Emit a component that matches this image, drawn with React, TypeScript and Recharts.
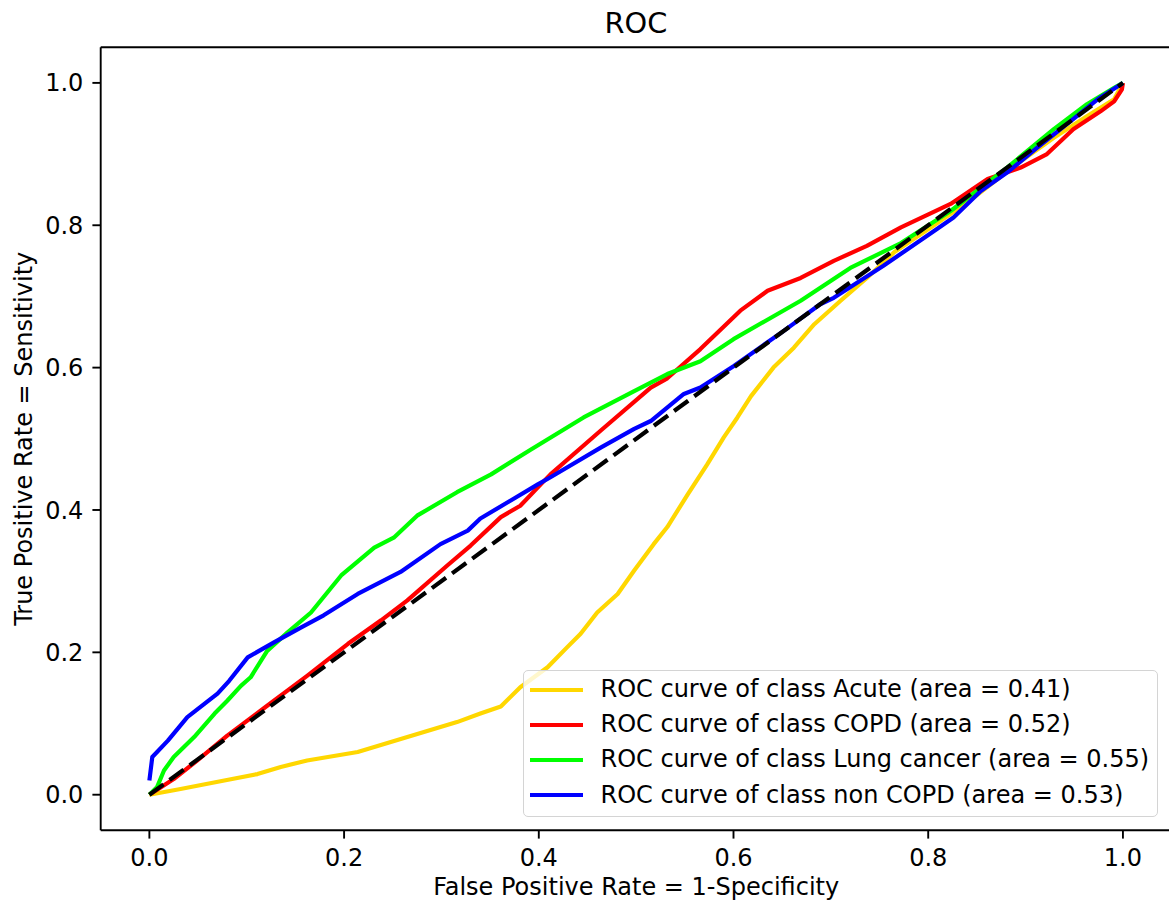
import React from 'react';
import { LineChart, Line, XAxis, YAxis, ReferenceLine, Legend } from 'recharts';

// ROC points (false positive rate, true positive rate)
const acuteFpr = [0, 0.032, 0.077, 0.111, 0.135, 0.162, 0.214, 0.265, 0.316, 0.34, 0.361, 0.381, 0.409, 0.429, 0.443, 0.46, 0.481, 0.498, 0.518, 0.532, 0.553, 0.573, 0.59, 0.604, 0.618, 0.641, 0.662, 0.683, 0.71, 0.737, 0.765, 0.806, 0.84, 0.895, 0.929, 0.963, 0.991, 1];
const acuteTpr = [0, 0.008, 0.02, 0.029, 0.039, 0.048, 0.06, 0.081, 0.102, 0.114, 0.124, 0.151, 0.179, 0.207, 0.226, 0.256, 0.282, 0.315, 0.352, 0.376, 0.422, 0.464, 0.502, 0.53, 0.56, 0.6, 0.628, 0.661, 0.694, 0.726, 0.762, 0.8, 0.832, 0.89, 0.923, 0.953, 0.977, 1];

const copdFpr = [0, 0.025, 0.049, 0.08, 0.121, 0.162, 0.204, 0.238, 0.265, 0.306, 0.33, 0.361, 0.381, 0.402, 0.412, 0.464, 0.515, 0.532, 0.566, 0.607, 0.635, 0.669, 0.703, 0.737, 0.772, 0.823, 0.861, 0.895, 0.922, 0.949, 0.977, 0.991, 0.999, 1];
const copdTpr = [0, 0.022, 0.048, 0.083, 0.125, 0.167, 0.212, 0.245, 0.273, 0.322, 0.35, 0.39, 0.406, 0.436, 0.45, 0.512, 0.572, 0.585, 0.626, 0.68, 0.708, 0.726, 0.75, 0.771, 0.797, 0.83, 0.865, 0.881, 0.9, 0.935, 0.96, 0.974, 0.991, 1];

const lungFpr = [0, 0.008, 0.015, 0.025, 0.046, 0.067, 0.08, 0.094, 0.104, 0.121, 0.142, 0.166, 0.197, 0.231, 0.251, 0.275, 0.316, 0.351, 0.392, 0.446, 0.498, 0.532, 0.566, 0.6, 0.669, 0.72, 0.772, 0.823, 0.881, 0.929, 0.963, 0.991, 1];
const lungTpr = [0, 0.011, 0.034, 0.053, 0.081, 0.114, 0.132, 0.153, 0.165, 0.202, 0.228, 0.256, 0.308, 0.347, 0.361, 0.392, 0.425, 0.45, 0.485, 0.53, 0.567, 0.591, 0.609, 0.64, 0.694, 0.74, 0.775, 0.82, 0.881, 0.935, 0.97, 0.993, 1];

const nonCopdFpr = [0, 0.003, 0.019, 0.039, 0.07, 0.082, 0.101, 0.128, 0.156, 0.179, 0.214, 0.258, 0.299, 0.327, 0.34, 0.399, 0.412, 0.464, 0.498, 0.515, 0.549, 0.566, 0.6, 0.652, 0.689, 0.703, 0.754, 0.806, 0.826, 0.854, 0.881, 0.912, 0.946, 0.974, 1];
const nonCopdTpr = [0.02, 0.053, 0.076, 0.109, 0.142, 0.16, 0.193, 0.214, 0.235, 0.252, 0.282, 0.313, 0.352, 0.371, 0.388, 0.436, 0.446, 0.488, 0.514, 0.525, 0.563, 0.572, 0.602, 0.652, 0.689, 0.698, 0.743, 0.792, 0.811, 0.848, 0.874, 0.909, 0.946, 0.977, 1];

const chanceFpr = [0, 1];
const chanceTpr = [0, 1];

const xTicks = [0, 0.2, 0.4, 0.6, 0.8, 1.0];
const yTicks = [0, 0.2, 0.4, 0.6, 0.8, 1.0];

const series = [
  { name: 'ROC curve of class Acute (area = 0.41)', color: '#FFD700', fpr: acuteFpr, tpr: acuteTpr },
  { name: 'ROC curve of class COPD (area = 0.52)', color: '#FF0000', fpr: copdFpr, tpr: copdTpr },
  { name: 'ROC curve of class Lung cancer (area = 0.55)', color: '#00FF00', fpr: lungFpr, tpr: lungTpr },
  { name: 'ROC curve of class non COPD (area = 0.53)', color: '#0000FF', fpr: nonCopdFpr, tpr: nonCopdTpr },
];

const toPoints = (xs: number[], ys: number[]) => xs.map((x, i) => ({ x, y: ys[i] }));

const FONT = 'DejaVu Sans';
const TICK_FONT = 24;

const renderLegend = ({ payload }: any) => (
  <div
    style={{
      boxSizing: 'border-box',
      width: 635,
      height: 147.3,
      border: '1.5px solid #d4d4d4',
      borderRadius: 5,
      background: 'rgba(255,255,255,0.8)',
      paddingTop: 1,
      fontFamily: FONT,
      fontSize: TICK_FONT,
      color: '#000',
    }}
  >
    {(payload || [])
      .filter((entry: any) => entry.value !== 'chance' && entry.type !== 'none')
      .map((entry: any) => (
        <div key={entry.value} style={{ display: 'flex', alignItems: 'center', height: 35.2 }}>
          <div style={{ marginLeft: 5.5, width: 53, height: 4.2, background: entry.color }} />
          <span style={{ marginLeft: 18, lineHeight: '35.2px', whiteSpace: 'nowrap' }}>{entry.value}</span>
        </div>
      ))}
  </div>
);

export default function App() {
  return (
    <div
      style={{
        position: 'absolute',
        left: 0,
        top: 0,
        width: 1169,
        height: 903,
        overflow: 'hidden',
        background: '#fff',
        fontFamily: FONT,
      }}
    >
      <LineChart width={1180} height={903} margin={{ top: 47.3, right: 8.4, bottom: 0, left: 0 }}>
        <XAxis
          type="number"
          dataKey="x"
          domain={[-0.05, 1.05]}
          allowDataOverflow
          ticks={xTicks}
          interval={0}
          tickFormatter={(v: number) => v.toFixed(1)}
          height={72.7}
          tickSize={8.3}
          tickMargin={10}
          axisLine={{ stroke: '#000', strokeWidth: 1.9 }}
          tickLine={{ stroke: '#000', strokeWidth: 1.9 }}
          tick={{ fill: '#000', fontSize: TICK_FONT, fontFamily: FONT }}
          label={(props: any) => {
            const vb = props.viewBox;
            return (
              <text x={vb.x + vb.width / 2} y={vb.y + 65} textAnchor="middle" fill="#000" fontSize={TICK_FONT} fontFamily={FONT}>
                False Positive Rate = 1-Specificity
              </text>
            );
          }}
        />
        <YAxis
          type="number"
          dataKey="y"
          domain={[-0.05, 1.05]}
          allowDataOverflow
          ticks={yTicks}
          interval={0}
          tickFormatter={(v: number) => v.toFixed(1)}
          width={100.7}
          tickSize={8.3}
          tickMargin={9}
          axisLine={{ stroke: '#000', strokeWidth: 1.9 }}
          tickLine={{ stroke: '#000', strokeWidth: 1.9 }}
          tick={{ fill: '#000', fontSize: TICK_FONT, fontFamily: FONT }}
          label={(props: any) => {
            const vb = props.viewBox;
            const cx = 31.7;
            const cy = vb.y + vb.height / 2;
            return (
              <text x={cx} y={cy} transform={`rotate(-90, ${cx}, ${cy})`} textAnchor="middle" fill="#000" fontSize={TICK_FONT} fontFamily={FONT}>
                True Positive Rate = Sensitivity
              </text>
            );
          }}
        />
        <ReferenceLine
          y={1.05}
          stroke="#000"
          strokeWidth={1.9}
          label={(props: any) => {
            const vb = props.viewBox;
            return (
              <text x={636} y={vb.y - 14.3} textAnchor="middle" fill="#000" fontSize={28.8} fontFamily={FONT}>
                ROC
              </text>
            );
          }}
        />
        {series.map((s) => (
          <Line
            key={s.name}
            name={s.name}
            data={toPoints(s.fpr, s.tpr)}
            dataKey="y"
            type="linear"
            stroke={s.color}
            strokeWidth={4.2}
            strokeLinejoin="round"
            dot={false}
            activeDot={false}
            isAnimationActive={false}
          />
        ))}
        <Line
          name="chance"
          data={toPoints(chanceFpr, chanceTpr)}
          dataKey="y"
          type="linear"
          stroke="#000"
          strokeWidth={4.2}
          strokeDasharray="17.5 7.5"
          dot={false}
          activeDot={false}
          legendType="none"
          isAnimationActive={false}
        />
        <Legend
          content={renderLegend}
          layout="horizontal"
          verticalAlign="middle"
          align="center"
          wrapperStyle={{ left: 523, top: 670, width: 635, height: 147.3 }}
        />
      </LineChart>
    </div>
  );
}
